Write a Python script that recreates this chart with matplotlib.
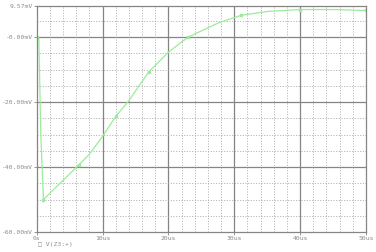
import numpy as np
import matplotlib
matplotlib.use("Agg")
import matplotlib.pyplot as plt
from matplotlib.ticker import FixedLocator

# ---- trace V(Z3:+) ----
time_us = [0, 0.3, 0.6, 1.0, 3.0, 6.4, 8.0, 10.0, 12.0, 14.0, 17.0, 20.0,
           23.0, 27.5, 31.0, 35.0, 40.0, 45.0, 50.0]
volt_mv = [0, -0.3, -30.0, -50.0, -46.0, -39.3, -36.0, -30.5, -24.4, -19.5,
           -10.7, -4.6, 0.0, 4.3, 6.7, 7.9, 8.5, 8.5, 8.2]
marker_idx = [0, 3, 5, 8, 10, 12, 14, 16, 18]

y_ticks = [9.57, 0.0, -20.0, -40.0, -60.0]
y_labels = ["9.57mV", "-0.00mV", "-20.00mV", "-40.00mV", "-60.00mV"]
x_ticks = [0, 10, 20, 30, 40, 50]
x_labels = ["0s", "10us", "20us", "30us", "40us", "50us"]
x_minor = [t for t in range(2, 50, 2) if t % 10]
y_minor = [5, -5, -10, -15, -25, -30, -35, -45, -50, -55]
legend_label = "V(Z3:+)"

GRID = "#858585"
TXT = "#8c8c8c"
TRACE = "#9aec9a"

fig = plt.figure(figsize=(3.76, 2.52), dpi=100)
ax = fig.add_axes([0.098, 0.079, 0.875, 0.897])

ax.plot(time_us, volt_mv, color=TRACE, lw=0.9, marker="s", ms=2.0,
        markevery=marker_idx, mfc=TRACE, mec=TRACE)

ax.set_xlim(0, 50)
ax.set_ylim(-60, 9.57)

ax.set_xticks(x_ticks)
ax.set_xticklabels(x_labels)
ax.set_yticks(y_ticks)
ax.set_yticklabels(y_labels)

# major solid grid, minor dotted grid
for t in x_ticks[1:-1]:
    ax.axvline(t, color=GRID, lw=0.9, zorder=0)
for v in [0, -20, -40]:
    ax.axhline(v, color=GRID, lw=0.9, zorder=0)
for t in x_minor:
    ax.axvline(t, color="#a0a0a0", lw=0.6, ls=(0, (1.2, 2.0)), zorder=0)
for v in y_minor:
    ax.axhline(v, color="#a0a0a0", lw=0.6, ls=(0, (1.2, 2.0)), zorder=0)

for s in ax.spines.values():
    s.set_color(GRID)
    s.set_linewidth(0.9)

ax.tick_params(which="major", length=2, width=0.6, color=GRID, labelsize=4.6,
               labelcolor=TXT, pad=1)
for lab in ax.get_xticklabels() + ax.get_yticklabels():
    lab.set_family("DejaVu Sans Mono")

fig.text(0.102, 0.028, "\u25a1 " + legend_label, fontsize=4.6, color=TXT,
         family="DejaVu Sans Mono", va="center")

fig.savefig("out.png", dpi=100)
